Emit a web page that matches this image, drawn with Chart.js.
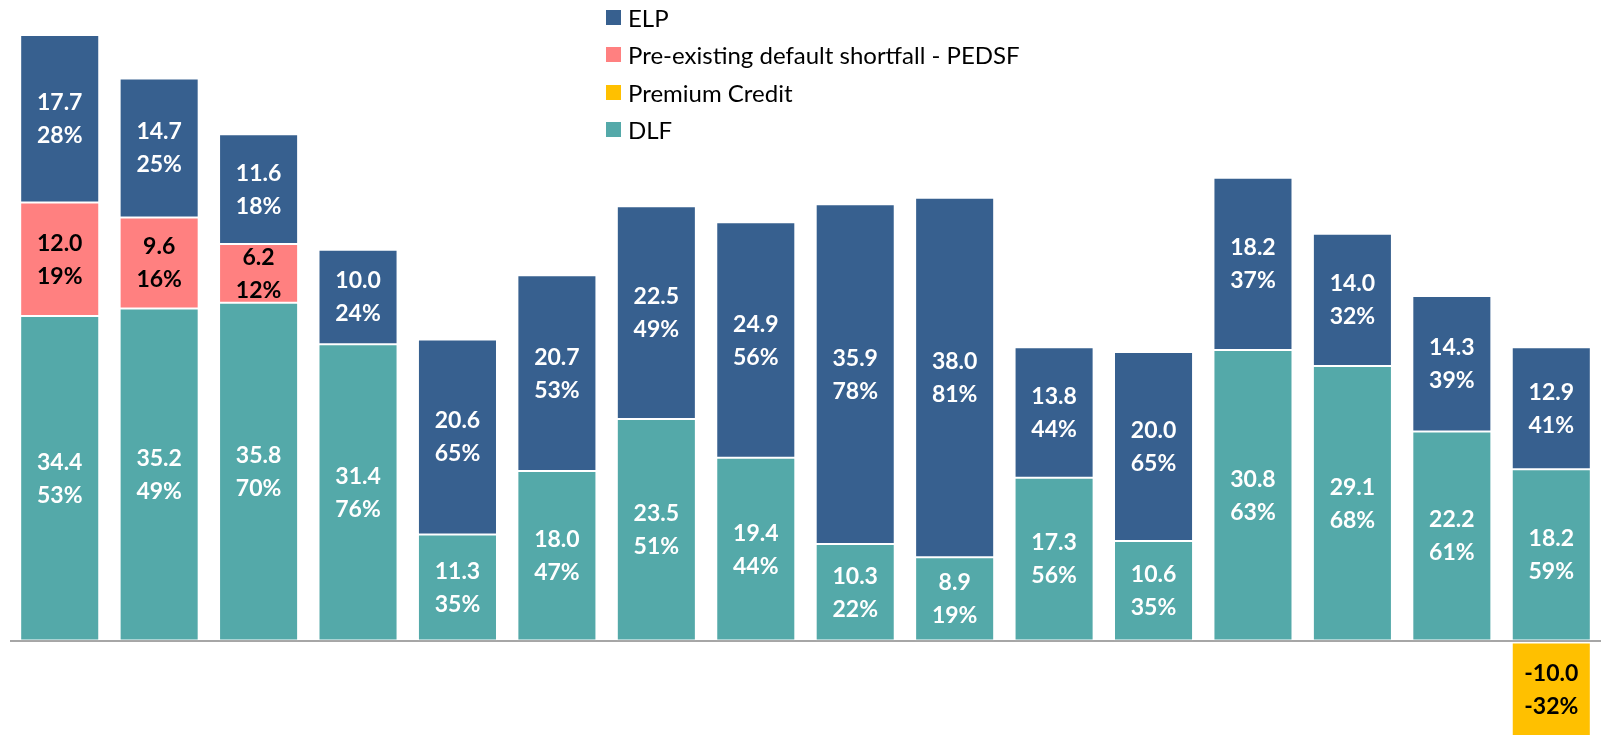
<!DOCTYPE html>
<html>
<head>
<meta charset="utf-8">
<script src="https://cdn.jsdelivr.net/npm/chart.js@4/dist/chart.umd.min.js"></script>
<style>
    html, body { margin: 0; padding: 0; background: #fff; }
    #wrap { position: relative; width: 1604px; height: 736px; }
    #legend {
        position: absolute; left: 606px; top: 0;
        font-family: Lato, 'Noto Sans', sans-serif; font-size: 24px; color: #000;
    }
    #legend .row { position: absolute; left: 0; height: 38px; display: flex; align-items: center; white-space: nowrap; }
    #legend .box { width: 15px; height: 15px; margin-right: 7px; }
</style>
</head>
<body>
<div id="wrap">
    <canvas id="chart"></canvas>
    <div id="legend"></div>
</div>
<script>
    const categories = ['1', '2', '3', '4', '5', '6', '7', '8', '9', '10', '11', '12', '13', '14', '15', '16'];

    const dlf     = [34.4, 35.2, 35.8, 31.4, 11.3, 18.0, 23.5, 19.4, 10.3, 8.9, 17.3, 10.6, 30.8, 29.1, 22.2, 18.2];
    const pedsf   = [12.0, 9.6, 6.2, null, null, null, null, null, null, null, null, null, null, null, null, null];
    const premium = [null, null, null, null, null, null, null, null, null, null, null, null, null, null, null, -10.0];
    const elp     = [17.7, 14.7, 11.6, 10.0, 20.6, 20.7, 22.5, 24.9, 35.9, 38.0, 13.8, 20.0, 18.2, 14.0, 14.3, 12.9];

    const dlfPct     = [53, 49, 70, 76, 35, 47, 51, 44, 22, 19, 56, 35, 63, 68, 61, 59];
    const pedsfPct   = [19, 16, 12, null, null, null, null, null, null, null, null, null, null, null, null, null];
    const premiumPct = [null, null, null, null, null, null, null, null, null, null, null, null, null, null, null, -32];
    const elpPct     = [28, 25, 18, 24, 65, 53, 49, 56, 78, 81, 44, 65, 37, 32, 39, 41];

    const COLORS = {
        elp: '#37608f',
        pedsf: '#ff8080',
        premium: '#ffc000',
        dlf: '#54a9a9',
    };

    const series = [
        { label: 'DLF', data: dlf, pct: dlfPct, color: COLORS.dlf, text: '#fff' },
        { label: 'Pre-existing default shortfall - PEDSF', data: pedsf, pct: pedsfPct, color: COLORS.pedsf, text: '#000' },
        { label: 'Premium Credit', data: premium, pct: premiumPct, color: COLORS.premium, text: '#000' },
        { label: 'ELP', data: elp, pct: elpPct, color: COLORS.elp, text: '#fff' },
    ];

    // two-line labels (value + share) in the middle of each segment
    const segmentLabels = {
        id: 'segmentLabels',
        afterDatasetsDraw(chart) {
            const ctx = chart.ctx;
            ctx.save();
            ctx.font = "bold 23px Lato, 'Noto Sans', sans-serif";
            ctx.textAlign = 'center';
            ctx.textBaseline = 'middle';
            chart.data.datasets.forEach((ds, i) => {
                const meta = chart.getDatasetMeta(i);
                meta.data.forEach((bar, j) => {
                    const v = ds.data[j];
                    if (v === null || v === undefined) return;
                    const p = bar.getCenterPoint();
                    ctx.fillStyle = ds.textColor;
                    ctx.fillText(v.toFixed(1), p.x, p.y - 16);
                    ctx.fillText(ds.pct[j] + '%', p.x, p.y + 17);
                });
            });
            ctx.restore();
        },
    };

    new Chart(document.getElementById('chart').getContext('2d'), {
        type: 'bar',
        data: {
            labels: categories,
            datasets: series.map((s) => ({
                label: s.label,
                data: s.data,
                pct: s.pct,
                textColor: s.text,
                backgroundColor: s.color,
                borderColor: 'rgba(255,255,255,0.15)',
                borderWidth: 1,
                borderSkipped: false,
                categoryPercentage: 1,
                barPercentage: 0.795,
            })),
        },
        options: {
            responsive: true,
            maintainAspectRatio: false,
            animation: false,
            layout: { padding: { left: 10, right: 3, top: 0, bottom: 0 } },
            plugins: {
                legend: { display: false },
                tooltip: { enabled: false },
            },
            scales: {
                x: { stacked: true, display: false },
                y: {
                    stacked: true,
                    min: -10,
                    max: 67.8,
                    display: true,
                    ticks: { display: false, stepSize: 10 },
                    border: { display: false },
                    grid: {
                        drawTicks: false,
                        lineWidth: 2,
                        color: (c) => (c.tick && c.tick.value === 0 ? '#a6a6a6' : 'transparent'),
                    },
                },
            },
        },
        plugins: [segmentLabels],
    });

    // legend, in the order of the original
    const legendEl = document.getElementById('legend');
    [series[3], series[1], series[2], series[0]].forEach((s, i) => {
        const row = document.createElement('div');
        row.className = 'row';
        row.style.top = (i * 37.6 - 2) + 'px';
        row.innerHTML = '<span class="box" style="background:' + s.color + '"></span>' + s.label;
        legendEl.appendChild(row);
    });
</script>
</body>
</html>
